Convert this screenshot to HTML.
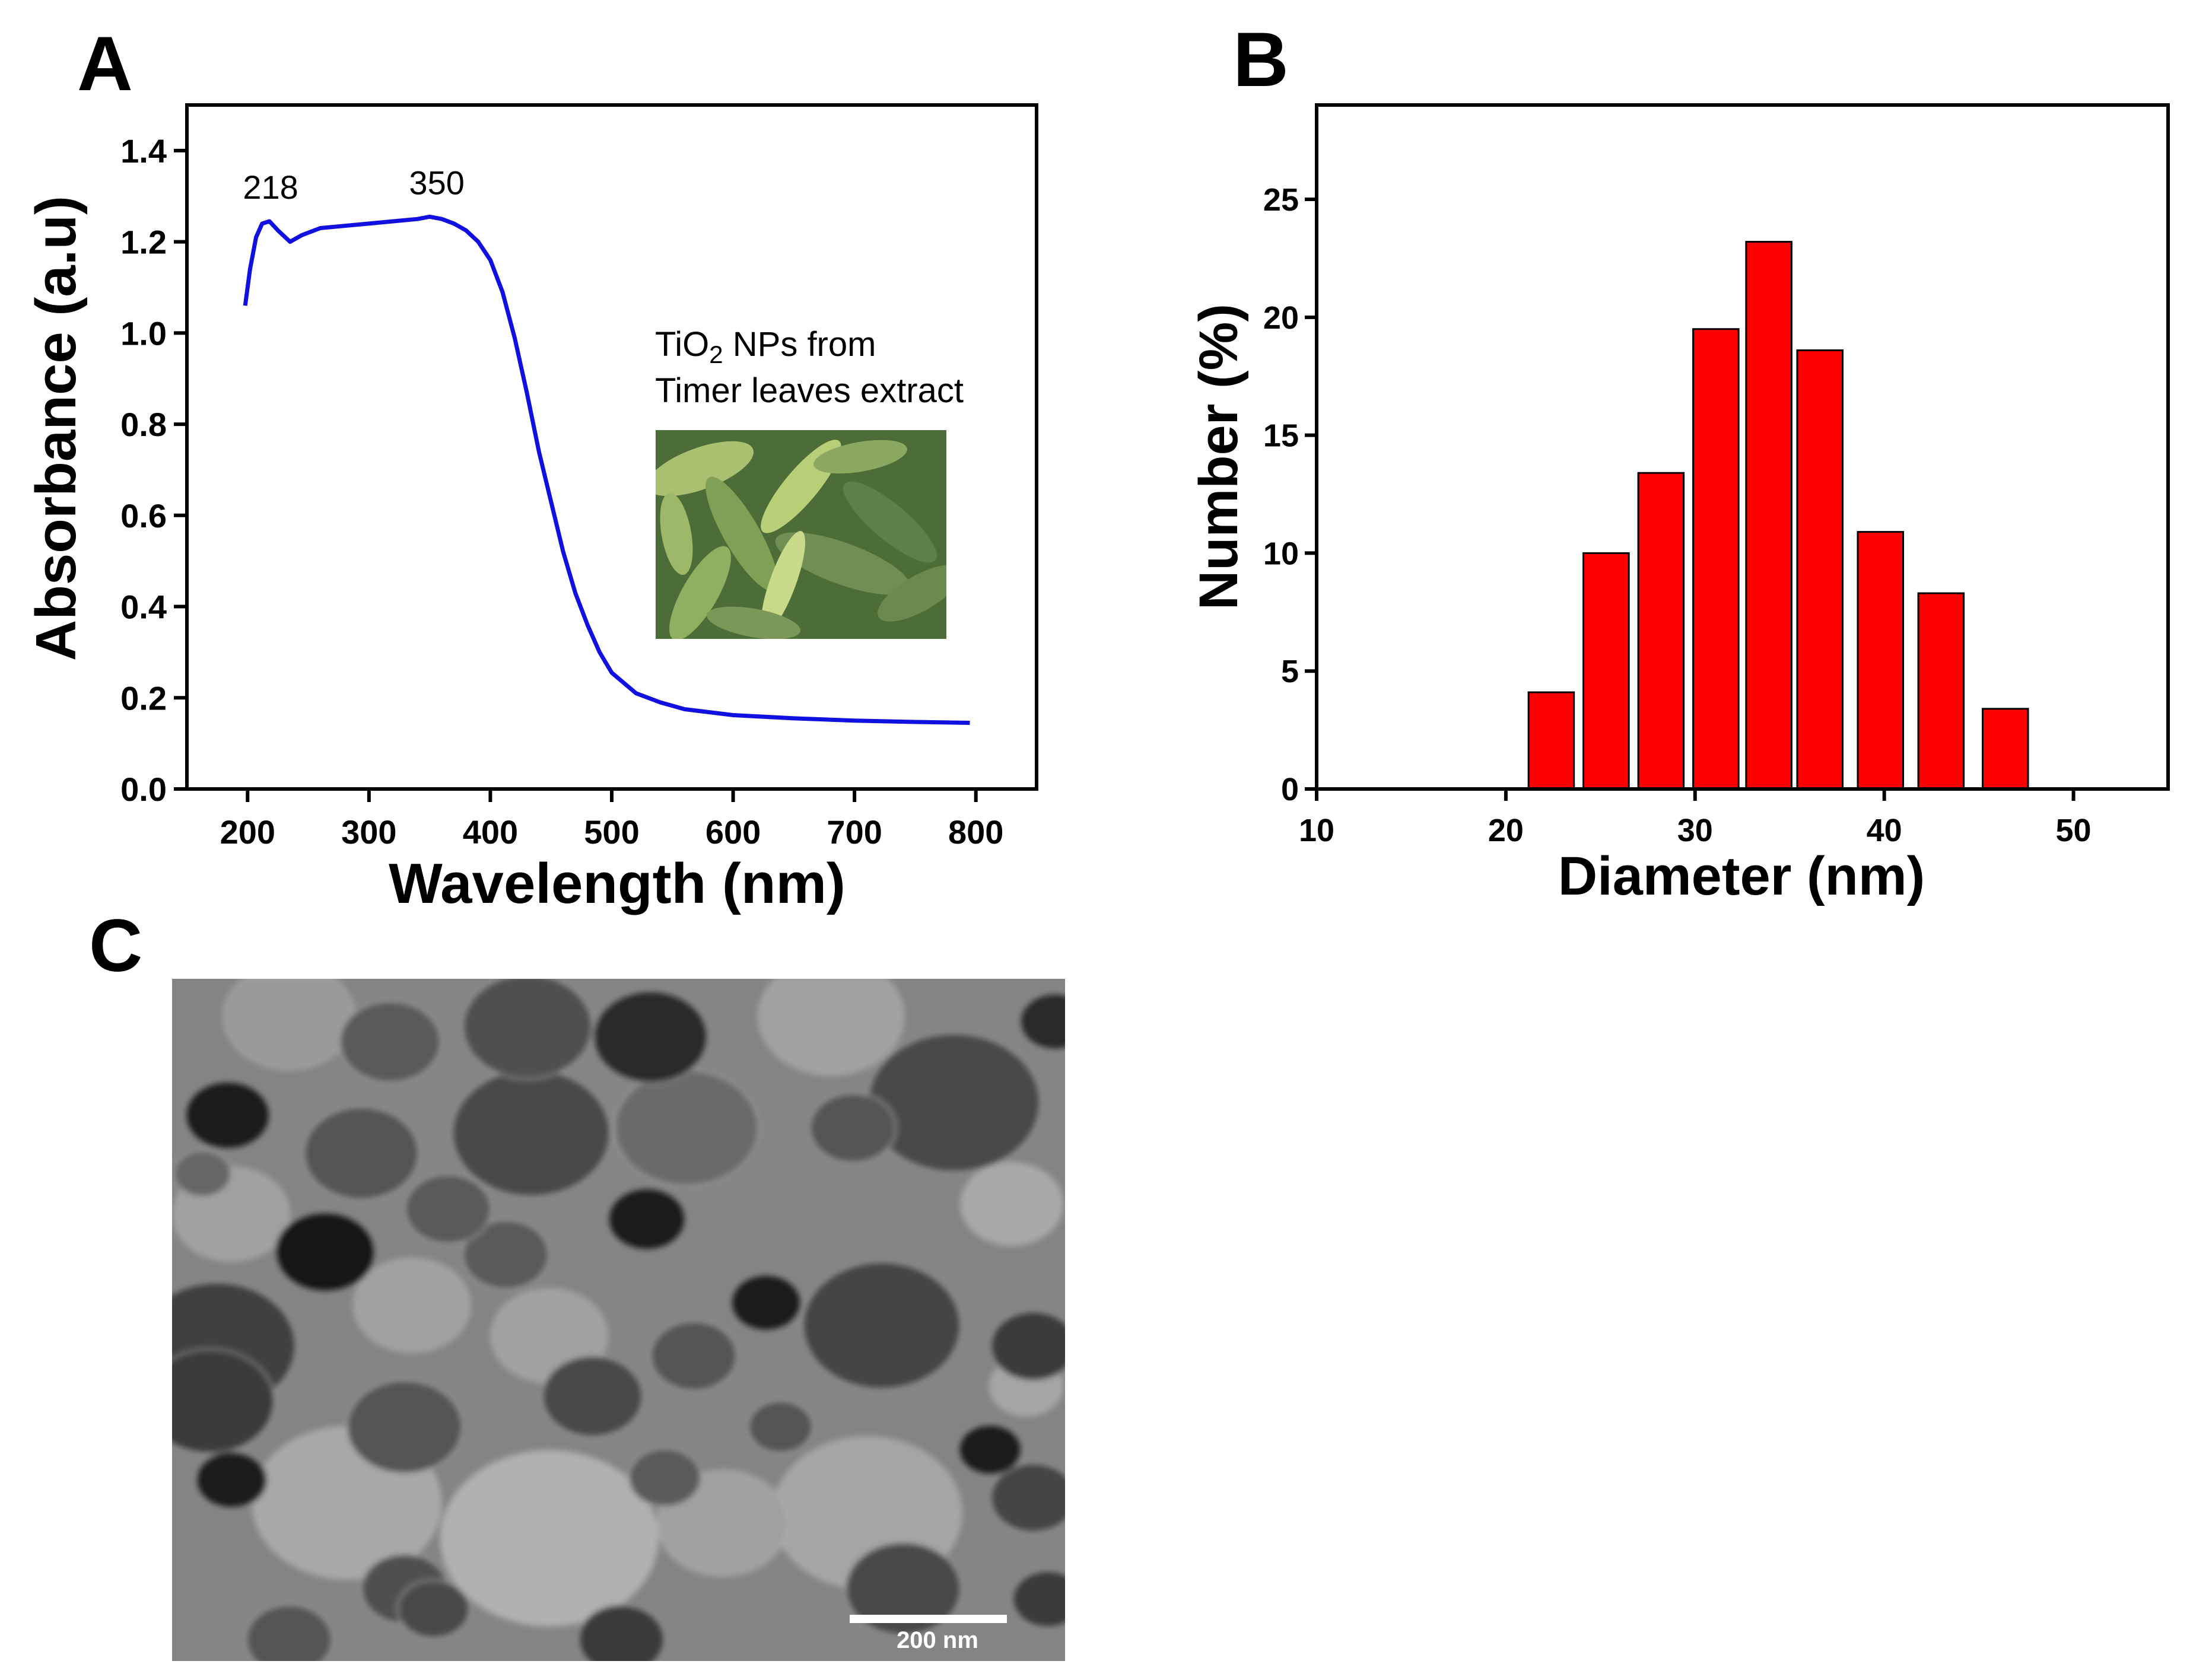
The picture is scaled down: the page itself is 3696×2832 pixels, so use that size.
<!DOCTYPE html>
<html><head><meta charset="utf-8"><style>
html,body{margin:0;padding:0;background:#fff;}
svg{display:block;}
text{font-family:"Liberation Sans",Arial,sans-serif;}
</style></head><body>
<svg id="fig" width="3696" height="2832" viewBox="0 0 3696 2832" xmlns="http://www.w3.org/2000/svg">
<defs>
<filter id="blur" x="-10%" y="-10%" width="120%" height="120%"><feGaussianBlur stdDeviation="5"/></filter>
<clipPath id="temclip"><rect x="290" y="1650" width="1505" height="1150"/></clipPath>
<clipPath id="leafclip"><rect x="1105" y="725" width="490" height="352"/></clipPath>
</defs>
<text x="130" y="152" font-size="130" font-weight="bold">A</text>
<text x="2078" y="145" font-size="130" font-weight="bold">B</text>
<text x="150" y="1637" font-size="125" font-weight="bold">C</text>
<g id="chartA"></g>
<g id="chartB"></g>
<g id="tem" clip-path="url(#temclip)"></g>
</svg>
<script>
const NS="http://www.w3.org/2000/svg";
function mk(p,tag,attrs,txt){const e=document.createElementNS(NS,tag);for(const k in attrs)e.setAttribute(k,attrs[k]);if(txt!==undefined)e.textContent=txt;p.appendChild(e);return e;}

// ---- Chart A data ----
const wavelengths=[198,202,207,212,218,225,235,245,260,280,300,320,340,350,360,370,380,390,400,410,420,430,440,450,460,470,480,490,500,520,540,560,600,650,700,750,795];
const absorbance=[1.06,1.14,1.21,1.24,1.245,1.225,1.20,1.215,1.23,1.235,1.24,1.245,1.25,1.255,1.25,1.24,1.225,1.20,1.16,1.09,0.99,0.87,0.74,0.63,0.52,0.43,0.36,0.30,0.255,0.21,0.19,0.175,0.162,0.155,0.15,0.147,0.145];
const xTicksA=[200,300,400,500,600,700,800];
const yTicksA=[0.0,0.2,0.4,0.6,0.8,1.0,1.2,1.4];
const peakLabels=[218,350];
const peakY=[1.245,1.255];

// ---- Chart B data ----
const binCenters=[22.4,25.3,28.2,31.1,33.9,36.6,39.8,43.0,46.4];
const binPercent=[4.1,10.0,13.4,19.5,23.2,18.6,10.9,8.3,3.4];
const binWidth=2.4;
const xTicksB=[10,20,30,40,50];
const yTicksB=[0,5,10,15,20,25];

(function(){
 const g=document.getElementById('chartA');
 const L=315,R=1747,T=177,B=1330;
 const xs=v=>L+(v-150)/(850-150)*(R-L);
 const ys=v=>B-(v/1.5)*(B-T);
 const ph=mk(g,'g',{'clip-path':'url(#leafclip)'});
 
 
 mk(ph,'rect',{x:1105,y:725,width:490,height:352,fill:'#4d6d38'});
 const leaves=[[1180,790,95,35,-20,'#a8c070'],[1250,900,110,30,60,'#7fa055'],[1350,820,100,28,-50,'#b8cf78'],[1420,950,120,35,20,'#6f8f55'],[1180,1000,90,30,-60,'#8fb060'],[1320,980,90,22,-70,'#c8d98a'],[1500,880,100,30,40,'#5f7f48'],[1550,1000,80,30,-30,'#6a8a50'],[1140,900,70,25,80,'#9cb868'],[1450,770,80,25,-10,'#8aa860'],[1270,1050,80,24,10,'#7a9858']];
 leaves.forEach(l=>mk(ph,'ellipse',{cx:l[0],cy:l[1],rx:l[2],ry:l[3],fill:l[5],transform:`rotate(${l[4]} ${l[0]} ${l[1]})`}));
 const t1=mk(g,'text',{x:1104,y:600,'font-size':58});
 t1.innerHTML='TiO<tspan font-size="42" dy="12">2</tspan><tspan dy="-12"> NPs from</tspan>';
 
 
 const t2=mk(g,'text',{x:1104,y:678,'font-size':58},'Timer leaves extract');
 
 
 const fr=mk(g,'rect',{x:L,y:T,width:R-L,height:B-T,fill:'none',stroke:'#000','stroke-width':6});
 
 
 xTicksA.forEach(v=>{
  mk(g,'line',{x1:xs(v),x2:xs(v),y1:B,y2:B+22,stroke:'#000','stroke-width':6});
  const t=mk(g,'text',{x:xs(v),y:B+92,'font-size':56,'font-weight':'bold','text-anchor':'middle'},String(v));
  
  
 });
 yTicksA.forEach(v=>{
  mk(g,'line',{x1:L-22,x2:L,y1:ys(v),y2:ys(v),stroke:'#000','stroke-width':6});
  const t=mk(g,'text',{x:L-34,y:ys(v)+20,'font-size':56,'font-weight':'bold','text-anchor':'end'},v.toFixed(1));
  
  
 });
 const d=wavelengths.map((w,i)=>(i?'L':'M')+xs(w).toFixed(1)+','+ys(absorbance[i]).toFixed(1)).join(' ');
 const p=mk(g,'path',{d:d,fill:'none',stroke:'#1010e0','stroke-width':7,'stroke-linejoin':'round'});
 
 
 peakLabels.forEach((v,i)=>{
  const t=mk(g,'text',{x:xs(v)+(i?12:2),y:ys(peakY[i])-38,'font-size':56,'text-anchor':'middle'},String(v));
  
  
 });
 const xt=mk(g,'text',{x:1040,y:1522,'font-size':96,'font-weight':'bold','text-anchor':'middle'},'Wavelength (nm)');
 
 
 const yt=mk(g,'text',{x:0,y:0,'font-size':96,'font-weight':'bold','text-anchor':'middle',transform:'translate(127,722) rotate(-90)'},'Absorbance (a.u)');
 
 
})();

(function(){
 const g=document.getElementById('chartB');
 const L=2219,R=3654,T=177,B=1330;
 const xs=v=>L+(v-10)/(55-10)*(R-L);
 const ys=v=>B-(v/29)*(B-T);
 binCenters.forEach((c,i)=>{
  const r=mk(g,'rect',{x:xs(c-binWidth/2),y:ys(binPercent[i]),width:xs(c+binWidth/2)-xs(c-binWidth/2),height:B-ys(binPercent[i]),fill:'#ff0000',stroke:'#000','stroke-width':3});
  
  
 });
 const fr=mk(g,'rect',{x:L,y:T,width:R-L,height:B-T,fill:'none',stroke:'#000','stroke-width':6});
 
 
 xTicksB.forEach(v=>{
  mk(g,'line',{x1:xs(v),x2:xs(v),y1:B,y2:B+20,stroke:'#000','stroke-width':6});
  const t=mk(g,'text',{x:xs(v),y:B+88,'font-size':54,'font-weight':'bold','text-anchor':'middle'},String(v));
  
  
 });
 yTicksB.forEach(v=>{
  mk(g,'line',{x1:L-20,x2:L,y1:ys(v),y2:ys(v),stroke:'#000','stroke-width':6});
  const t=mk(g,'text',{x:L-30,y:ys(v)+19,'font-size':54,'font-weight':'bold','text-anchor':'end'},String(v));
  
  
 });
 const xt=mk(g,'text',{x:2935,y:1508,'font-size':92,'font-weight':'bold','text-anchor':'middle'},'Diameter (nm)');
 
 
 const yt=mk(g,'text',{x:0,y:0,'font-size':92,'font-weight':'bold','text-anchor':'middle',transform:'translate(2085,770) rotate(-90)'},'Number (%)');
 
 
})();

(function(){
 const g=document.getElementById('tem');
 const fx=v=>v*1.218, fy=v=>1500+v*0.854;
 mk(g,'rect',{x:290,y:1650,width:1505,height:1150,fill:'#848484'});
 const blobs=[
 [760,1280,150,'#b0b0b0'],[480,1210,130,'#a8a8a8'],[1200,1230,130,'#a5a5a5'],[570,820,80,'#a0a0a0'],[1400,620,70,'#a8a8a8'],[1420,980,50,'#a5a5a5'],[320,640,80,'#a0a0a0'],[1150,250,100,'#a0a0a0'],[400,250,90,'#9a9a9a'],[1000,1250,90,'#a0a0a0'],[760,880,80,'#a0a0a0'],
 [735,480,110,'#4a4a4a'],[500,520,80,'#555'],[1320,420,120,'#4a4a4a'],[1220,860,110,'#454545'],[300,900,110,'#404040'],[290,1010,90,'#3a3a3a'],[960,920,60,'#555'],[820,1000,70,'#4a4a4a'],[560,1060,80,'#555'],[1080,1060,45,'#555'],[920,1160,50,'#5a5a5a'],[700,720,60,'#5a5a5a'],[620,630,60,'#5a5a5a'],[540,300,70,'#5a5a5a'],[730,270,90,'#4f4f4f'],[950,470,100,'#6a6a6a'],[1180,470,60,'#555'],[1430,900,60,'#3a3a3a'],[1430,1200,60,'#444'],[560,1380,60,'#505050'],[860,1480,60,'#3a3a3a'],[1250,1380,80,'#4a4a4a'],[280,560,40,'#666'],[600,1420,50,'#4a4a4a'],[1450,1400,50,'#3a3a3a'],[1460,260,50,'#2a2a2a'],[400,1480,60,'#555'],
 [315,445,60,'#1a1a1a'],[450,715,70,'#151515'],[895,650,55,'#1a1a1a'],[1060,815,50,'#1c1c1c'],[320,1165,50,'#1a1a1a'],[1370,1105,45,'#1c1c1c'],[900,290,80,'#2a2a2a']];
 const bg=mk(g,'g',{filter:'url(#blur)'});
 blobs.forEach(b=>{
  const e=mk(bg,'ellipse',{cx:fx(b[0]),cy:fy(b[1]),rx:b[2]*1.218,ry:b[2]*0.854*1.15,fill:b[3],stroke:'#b8b8b8','stroke-width':4,'stroke-opacity':0.5});
  
  
 });
 const sb=mk(g,'rect',{x:1432,y:2722,width:265,height:14,fill:'#fff'});
 
 
 const st=mk(g,'text',{x:1580,y:2778,'font-size':40,'font-weight':'bold',fill:'#fff','text-anchor':'middle'},'200 nm');
 
 
})();
</script>
</body></html>
